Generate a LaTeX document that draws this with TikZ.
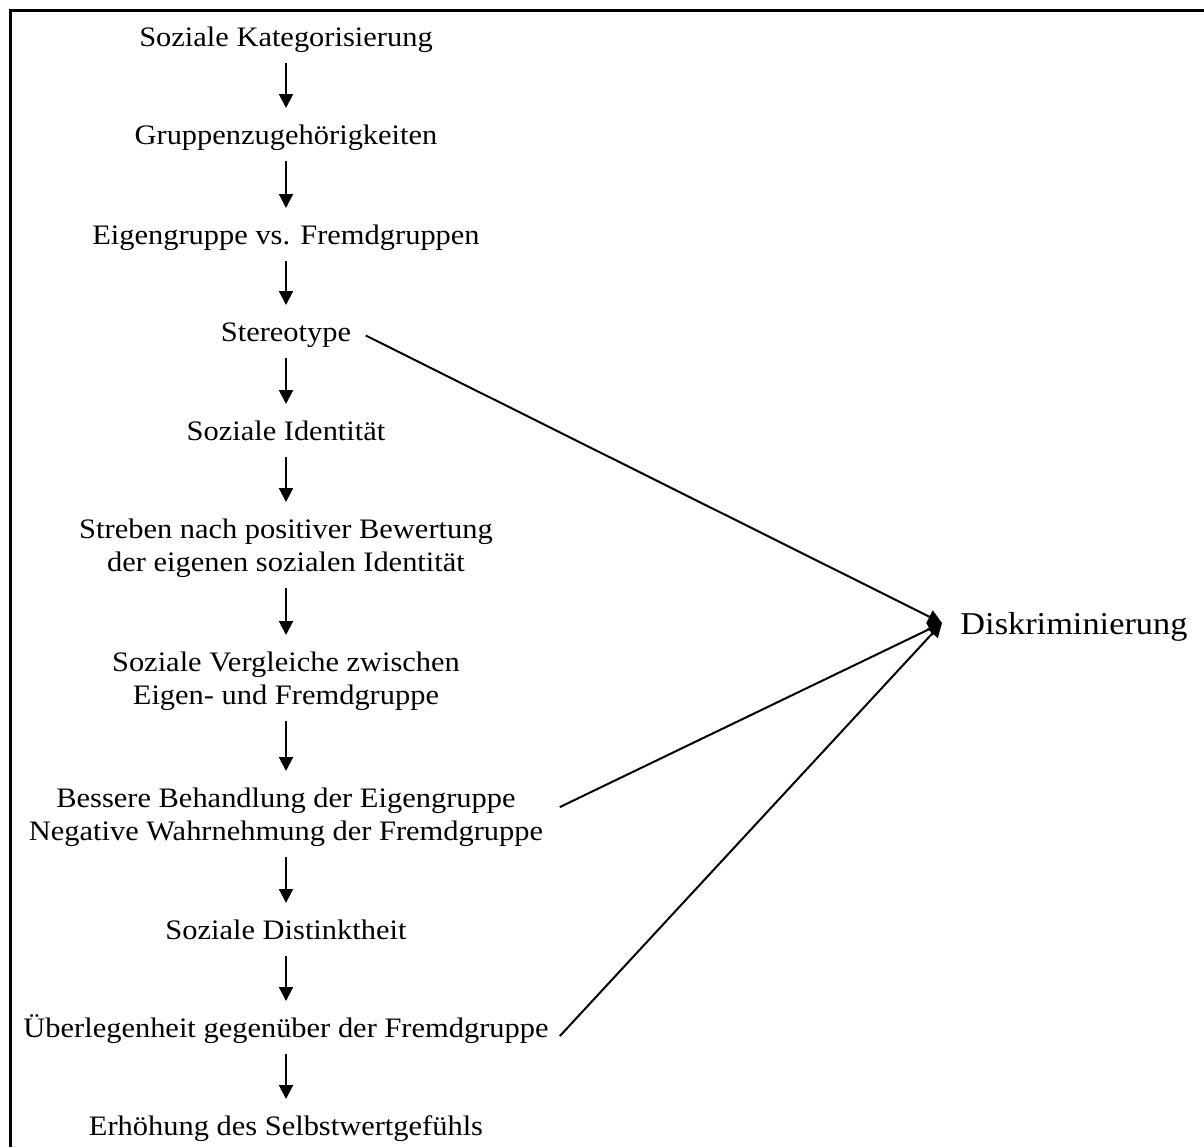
\documentclass[tikz,border=0pt]{standalone}
\usepackage{fontspec}
\setmainfont{Liberation Serif}[FakeStretch=1.08]
\usetikzlibrary{arrows.meta}
\newcommand{\hstr}{\rule{0pt}{14pt}}
\newcommand{\dstr}{\rule[-5pt]{0pt}{5pt}}
\begin{document}
\begin{tikzpicture}[x=0.5pt,y=-0.5pt,
  txt/.style={anchor=north, inner sep=0pt, align=center, font=\fontsize{14.1}{16.5}\selectfont},
  varr/.style={line width=1pt, -{Triangle[width=7pt,length=7pt]}, shorten <=3pt, shorten >=4pt},
  darr/.style={line width=1pt, -{Triangle[width=7pt,length=7pt]}},
  frame/.style={line width=1.5pt, line join=miter}]
\useasboundingbox (0,0) rectangle (1204,1147);
\draw[frame] (10.5,1147) -- (10.5,10.5) -- (1204,10.5);

\node[txt] (n1) at (286,18) {\hstr\dstr Soziale Kategorisierung};
\node[txt] (n2) at (286,116) {\hstr\dstr Gruppenzugehörigkeiten};
\node[txt] (n3) at (286,216) {\hstr\dstr Eigengruppe vs. Fremdgruppen};
\node[txt] (n4) at (286,313) {\hstr\dstr Stereotype};
\node[txt] (n5) at (286,412) {\hstr\dstr Soziale Identität};
\node[txt] (n6) at (286,510) {\hstr Streben nach positiver Bewertung\\der eigenen sozialen Identität\dstr};
\node[txt] (n7) at (286,643) {\hstr Soziale Vergleiche zwischen\\Eigen- und Fremdgruppe\dstr};
\node[txt] (n8) at (286,779) {\hstr Bessere Behandlung der Eigengruppe\\Negative Wahrnehmung der Fremdgruppe\dstr};
\node[txt] (n9) at (286,911) {\hstr\dstr Soziale Distinktheit};
\node[txt] (n10) at (286,1009) {\hstr\dstr Überlegenheit gegenüber der Fremdgruppe};
\node[txt] (n11) at (286,1107) {\hstr\dstr Erhöhung des Selbstwertgefühls};

\node[anchor=base west, inner xsep=9pt, inner ysep=0pt, text height=12pt, text depth=1pt,
      font=\fontsize{15.9}{18}\selectfont] (d) at (942,634) {Diskriminierung};

\foreach \a/\b in {n1/n2,n2/n3,n3/n4,n4/n5,n5/n6,n6/n7,n7/n8,n8/n9,n9/n10,n10/n11}
  \draw[varr] (\a.south) -- (\b.north);

\draw[darr, shorten <=8pt] ([yshift=2pt]n4.east) -- (d.west);
\draw[darr, shorten <=9pt] (n8.east) -- (d.west);
\draw[darr, shorten <=8pt] (n10.south east) -- (d.west);
\end{tikzpicture}
\end{document}
